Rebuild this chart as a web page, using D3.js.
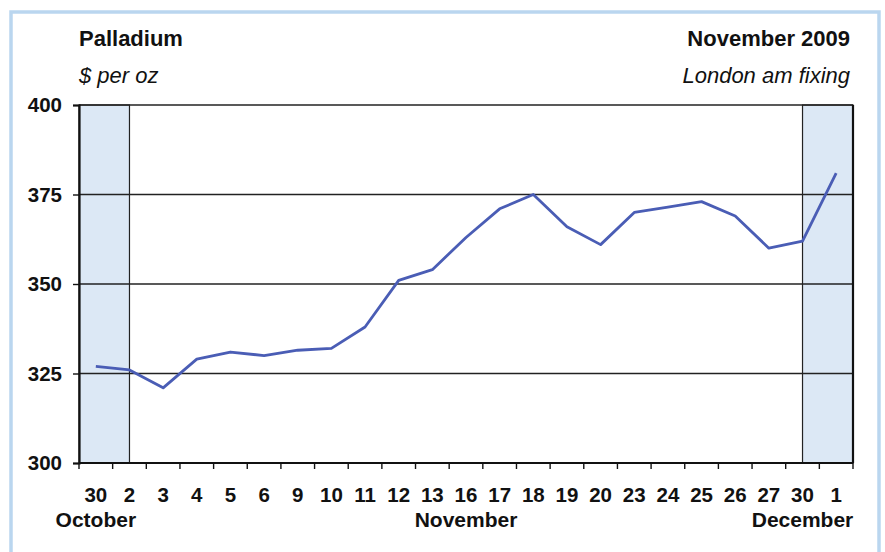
<!DOCTYPE html>
<html>
<head>
<meta charset="utf-8">
<script src="https://cdn.jsdelivr.net/npm/d3@7"></script>
<style>
  body { margin: 0; background: #fff; }
  svg { display: block; font-family: "Liberation Sans", Arial, sans-serif; }
</style>
</head>
<body>
<svg id="chart" width="885" height="552"></svg>
<script>
// trading days, Oct 30 2009 to Dec 1 2009
const days = ['30', '2', '3', '4', '5', '6', '9', '10', '11', '12', '13', '16',
  '17', '18', '19', '20', '23', '24', '25', '26', '27', '30', '1'];
const months = [
  { name: 'October', at: 0 },
  { name: 'November', at: 11 },
  { name: 'December', at: 21 }
];
const prices = [327, 326, 321, 329, 331, 330, 331.5, 332, 338, 351, 354, 363,
  371, 375, 366, 361, 370, 371.5, 373, 369, 360, 362, 381];
const yTicks = [300, 325, 350, 375, 400];

const svg = d3.select('#chart');
const plotLeft = 79, plotRight = 853, plotTop = 105, plotBottom = 463;

// outer frame
svg.append('rect')
  .attr('x', 11).attr('y', 12)
  .attr('width', 868).attr('height', 560)
  .attr('fill', 'none')
  .attr('stroke', '#bad6ef')
  .attr('stroke-width', 3.5);

const x = d3.scaleBand().domain(d3.range(days.length)).range([plotLeft, plotRight]);
const y = d3.scaleLinear().domain([300, 400]).range([plotBottom, plotTop]);
const cx = i => x(i) + x.bandwidth() / 2;

// shaded month edges
svg.append('rect')
  .attr('x', plotLeft).attr('y', plotTop)
  .attr('width', cx(1) - plotLeft).attr('height', plotBottom - plotTop)
  .attr('fill', '#dce8f5').attr('stroke', '#222').attr('stroke-width', 1.2);
svg.append('rect')
  .attr('x', cx(21)).attr('y', plotTop)
  .attr('width', plotRight - cx(21)).attr('height', plotBottom - plotTop)
  .attr('fill', '#dce8f5').attr('stroke', '#222').attr('stroke-width', 1.2);

// gridlines
svg.append('g')
  .selectAll('line')
  .data(yTicks.slice(1))
  .enter()
  .append('line')
  .attr('x1', plotLeft).attr('x2', plotRight)
  .attr('y1', d => y(d)).attr('y2', d => y(d))
  .attr('stroke', '#222')
  .attr('stroke-width', 1.4);

// right frame
svg.append('line')
  .attr('x1', plotRight).attr('x2', plotRight)
  .attr('y1', plotTop).attr('y2', plotBottom)
  .attr('stroke', '#111').attr('stroke-width', 2.2);

// y axis
const yAxis = svg.append('g')
  .attr('transform', 'translate(' + plotLeft + ',0)')
  .call(d3.axisLeft(y).tickValues(yTicks).tickSize(6).tickPadding(11));
yAxis.select('.domain').attr('stroke', '#111').attr('stroke-width', 2.2);
yAxis.selectAll('.tick line').attr('stroke', '#111').attr('stroke-width', 1.4);
yAxis.selectAll('.tick text')
  .attr('font-size', 20.5).attr('font-weight', 'bold').attr('fill', '#111')
  .attr('font-family', '"Liberation Sans", Arial, sans-serif');

// x axis: ticks at band edges
const edges = d3.range(days.length + 1).map(i => i < days.length ? x(i) : plotRight);
svg.append('line')
  .attr('x1', plotLeft).attr('x2', plotRight)
  .attr('y1', plotBottom).attr('y2', plotBottom)
  .attr('stroke', '#111').attr('stroke-width', 2.2);
svg.append('g')
  .selectAll('line')
  .data(edges)
  .enter()
  .append('line')
  .attr('x1', d => d).attr('x2', d => d)
  .attr('y1', plotBottom).attr('y2', plotBottom + 6)
  .attr('stroke', '#111').attr('stroke-width', 1.4);

svg.append('g')
  .selectAll('text')
  .data(days)
  .enter()
  .append('text')
  .attr('x', (d, i) => cx(i))
  .attr('y', 502)
  .attr('text-anchor', 'middle')
  .attr('font-size', 20.5)
  .attr('font-weight', 'bold')
  .attr('fill', '#111')
  .text(d => d);

svg.append('g')
  .selectAll('text')
  .data(months)
  .enter()
  .append('text')
  .attr('x', d => cx(d.at))
  .attr('y', 527)
  .attr('text-anchor', 'middle')
  .attr('font-size', 21)
  .attr('font-weight', 'bold')
  .attr('fill', '#111')
  .text(d => d.name);

// price line
const line = d3.line()
  .x((d, i) => cx(i))
  .y(d => y(d));
svg.append('path')
  .datum(prices)
  .attr('d', line)
  .attr('fill', 'none')
  .attr('stroke', '#4a5db5')
  .attr('stroke-width', 2.8)
  .attr('stroke-linejoin', 'round');

// titles
svg.append('text').attr('x', plotLeft).attr('y', 46)
  .attr('font-size', 22).attr('font-weight', 'bold').attr('fill', '#111')
  .text('Palladium');
svg.append('text').attr('x', plotLeft).attr('y', 83)
  .attr('font-size', 22).attr('font-style', 'italic').attr('fill', '#111')
  .text('$ per oz');
svg.append('text').attr('x', 850).attr('y', 46)
  .attr('text-anchor', 'end')
  .attr('font-size', 22).attr('font-weight', 'bold').attr('fill', '#111')
  .text('November 2009');
svg.append('text').attr('x', 850).attr('y', 83)
  .attr('text-anchor', 'end')
  .attr('font-size', 22).attr('font-style', 'italic').attr('fill', '#111')
  .text('London am fixing');
</script>
</body>
</html>
